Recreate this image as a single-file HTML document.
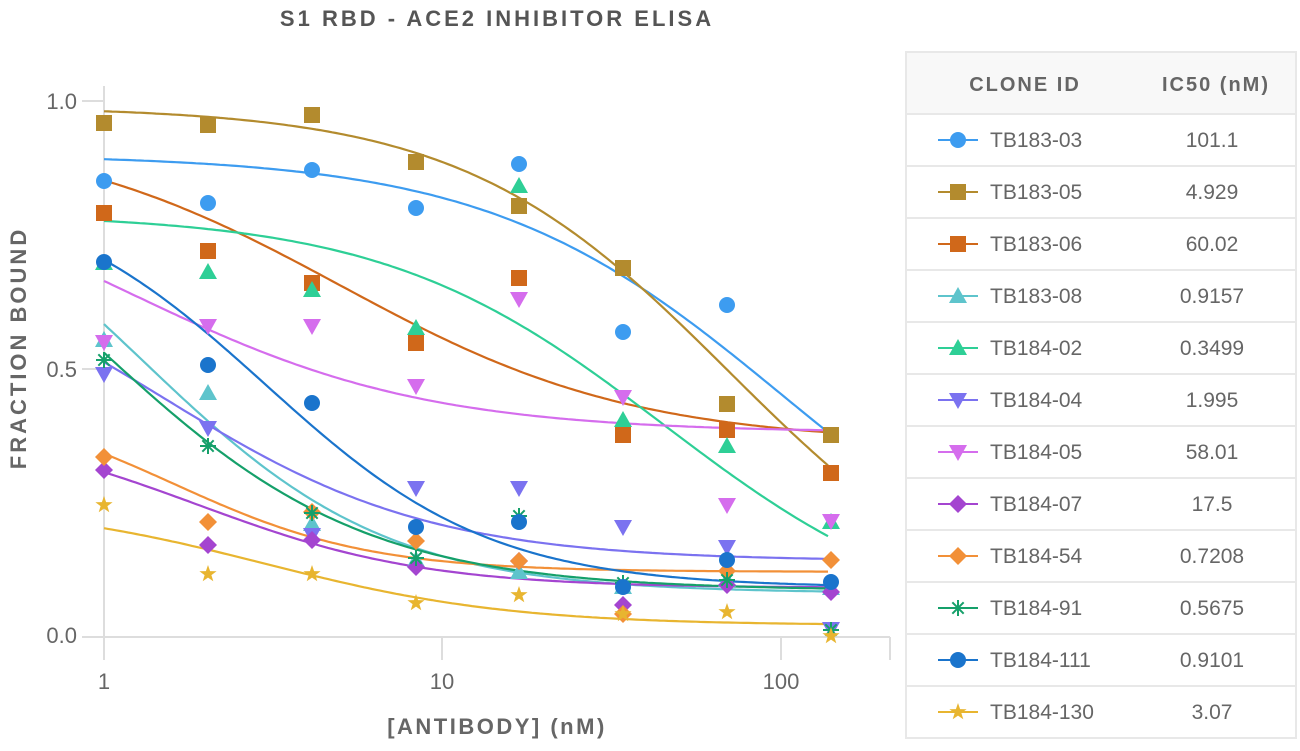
<!DOCTYPE html>
<html><head><meta charset="utf-8"><style>
body{margin:0;background:#fff;width:1300px;height:746px;overflow:hidden;font-family:"Liberation Sans",sans-serif}
svg text{font-family:"Liberation Sans",sans-serif}
</style></head><body>
<svg id="s" width="1300" height="746" xmlns="http://www.w3.org/2000/svg">
<text x="497" y="26" text-anchor="middle" font-size="22" font-weight="bold" fill="#555" letter-spacing="3">S1 RBD - ACE2 INHIBITOR ELISA</text>
<text transform="translate(26,348) rotate(-90)" text-anchor="middle" font-size="22" font-weight="bold" fill="#666" letter-spacing="3">FRACTION BOUND</text>
<text x="497" y="734" text-anchor="middle" font-size="22" font-weight="bold" fill="#666" letter-spacing="2.5">[ANTIBODY] (nM)</text>
<g stroke="#ddd" stroke-width="2">
<line x1="104" y1="86" x2="104" y2="637"/>
<line x1="82" y1="637" x2="890" y2="637"/>
<line x1="82" y1="101" x2="104" y2="101"/><line x1="82" y1="369" x2="104" y2="369"/>
<line x1="104" y1="637" x2="104" y2="660"/><line x1="442" y1="637" x2="442" y2="660"/>
<line x1="781" y1="637" x2="781" y2="660"/><line x1="890" y1="637" x2="890" y2="660"/>
</g>
<g font-size="22" fill="#666" text-anchor="end">
<text x="77" y="109">1.0</text><text x="77" y="377">0.5</text><text x="77" y="643">0.0</text>
</g>
<g font-size="22" fill="#666" text-anchor="middle">
<text x="104" y="689">1</text><text x="442" y="689">10</text><text x="781" y="689">100</text>
</g>
<rect x="906" y="52" width="390" height="62" fill="#f8f8f8"/>
<rect x="906" y="52" width="390" height="686" fill="none" stroke="#e8e8e8" stroke-width="2"/>
<text x="1025" y="91" text-anchor="middle" font-size="20" font-weight="bold" fill="#666" letter-spacing="2">CLONE ID</text>
<text x="1216" y="91" text-anchor="middle" font-size="20" font-weight="bold" fill="#666" letter-spacing="2">IC50 (nM)</text>
<g id="leg"></g>
<g id="curves"></g>
<g id="marks"></g>
</svg>
<script>
var NS="http://www.w3.org/2000/svg";
var S=[
["TB183-03","101.1","#3d9cf0","c",[181,203,170,208,164,332,305,435],[0,.9,101,1]],
["TB183-05","4.929","#b38b2e","s",[123,125,115,162,206,268,404,435],[0,.99,70,1.1]],
["TB183-06","60.02","#d0681a","s",[213,251,283,343,278,435,430,473],[.36,.95,5,1]],
["TB183-08","0.9157","#5ec4cc","t",[340,393,524,560,572,587,580,588],[.08,.95,1.3,1.2]],
["TB184-02","0.3499","#2ecf96","t",[263,272,290,328,186,420,446,522],[0,.79,45,1.05]],
["TB184-04","1.995","#7b72f0","d",[374,428,535,488,488,527,547,629],[.14,.75,1.5,1.1]],
["TB184-05","58.01","#d56ded","d",[342,326,326,386,299,397,505,521],[.38,.9,1.2,1]],
["TB184-07","17.5","#a445d0","m",[470,545,540,567,561,605,585,592],[.09,.4,1.9,1.3]],
["TB184-54","0.7208","#f29038","m",[457,522,512,541,561,614,571,560],[.12,.45,1.6,1.5]],
["TB184-91","0.5675","#15a06a","a",[360,446,513,558,516,583,580,630],[.085,1,.95,1.1]],
["TB184-111","0.9101","#1a74cc","c",[262,365,403,527,522,587,560,582],[.09,.85,3,1.3]],
["TB184-130","3.07","#e8b530","r",[505,574,574,603,595,614,612,636],[.02,.25,3,1.2]]
];
function el(t,a,p){var e=document.createElementNS(NS,t);for(var k in a)e.setAttribute(k,a[k]);p.appendChild(e);return e;}
function mk(type,x,y,c,p,r){r=r||8;
 if(type=="c")el("circle",{cx:x,cy:y,r:r,fill:c},p);
 else if(type=="s")el("rect",{x:x-r,y:y-r,width:2*r,height:2*r,fill:c},p);
 else if(type=="t")el("polygon",{points:(x)+","+(y-r-1)+" "+(x+r+1)+","+(y+r-1)+" "+(x-r-1)+","+(y+r-1),fill:c},p);
 else if(type=="d")el("polygon",{points:(x)+","+(y+r+1)+" "+(x+r+1)+","+(y-r+1)+" "+(x-r-1)+","+(y-r+1),fill:c},p);
 else if(type=="m")el("polygon",{points:x+","+(y-r-1)+" "+(x+r+1)+","+y+" "+x+","+(y+r+1)+" "+(x-r-1)+","+y,fill:c},p);
 else if(type=="a"){for(var i=0;i<4;i++){var an=i*Math.PI/4;el("line",{x1:x-r*Math.cos(an),y1:y-r*Math.sin(an),x2:x+r*Math.cos(an),y2:y+r*Math.sin(an),stroke:c,"stroke-width":2},p);}}
 else if(type=="r"){var pts=[];for(var i=0;i<10;i++){var rr=i%2?r*0.45:r+1,an=-Math.PI/2+i*Math.PI/5;pts.push((x+rr*Math.cos(an)).toFixed(1)+","+(y+rr*Math.sin(an)).toFixed(1));}el("polygon",{points:pts.join(" "),fill:c},p);}
}
var cg=document.getElementById("curves"),mg=document.getElementById("marks"),lg=document.getElementById("leg");
var cols=[104,208,312,416,519,623,727,831];
S.forEach(function(s,i){
 var p=s[5],pts=[];
 for(var px=104;px<=831;px+=4){var c=Math.pow(10,(px-104)/338.5);var v=p[0]+(p[1]-p[0])/(1+Math.pow(c/p[2],p[3]));pts.push(px+","+(636-v*535).toFixed(1));}
 el("polyline",{points:pts.join(" "),fill:"none",stroke:s[2],"stroke-width":2.2},cg);
 s[4].forEach(function(y,j){mk(s[3],cols[j],y,s[2],mg);});
 var cy=140+i*52;
 if(i>0)el("line",{x1:906,y1:cy-26,x2:1296,y2:cy-26,stroke:"#e8e8e8","stroke-width":2},lg);
 el("line",{x1:938,y1:cy,x2:978,y2:cy,stroke:s[2],"stroke-width":2},lg);
 mk(s[3],958,cy,s[2],lg,8);
 var t=el("text",{x:990,y:cy+7,"font-size":21,fill:"#666"},lg);t.textContent=s[0];
 var u=el("text",{x:1212,y:cy+7,"font-size":21,fill:"#666","text-anchor":"middle"},lg);u.textContent=s[1];
});
el("line",{x1:906,y1:114,x2:1296,y2:114,stroke:"#e8e8e8","stroke-width":2},lg);
</script>
</body></html>
